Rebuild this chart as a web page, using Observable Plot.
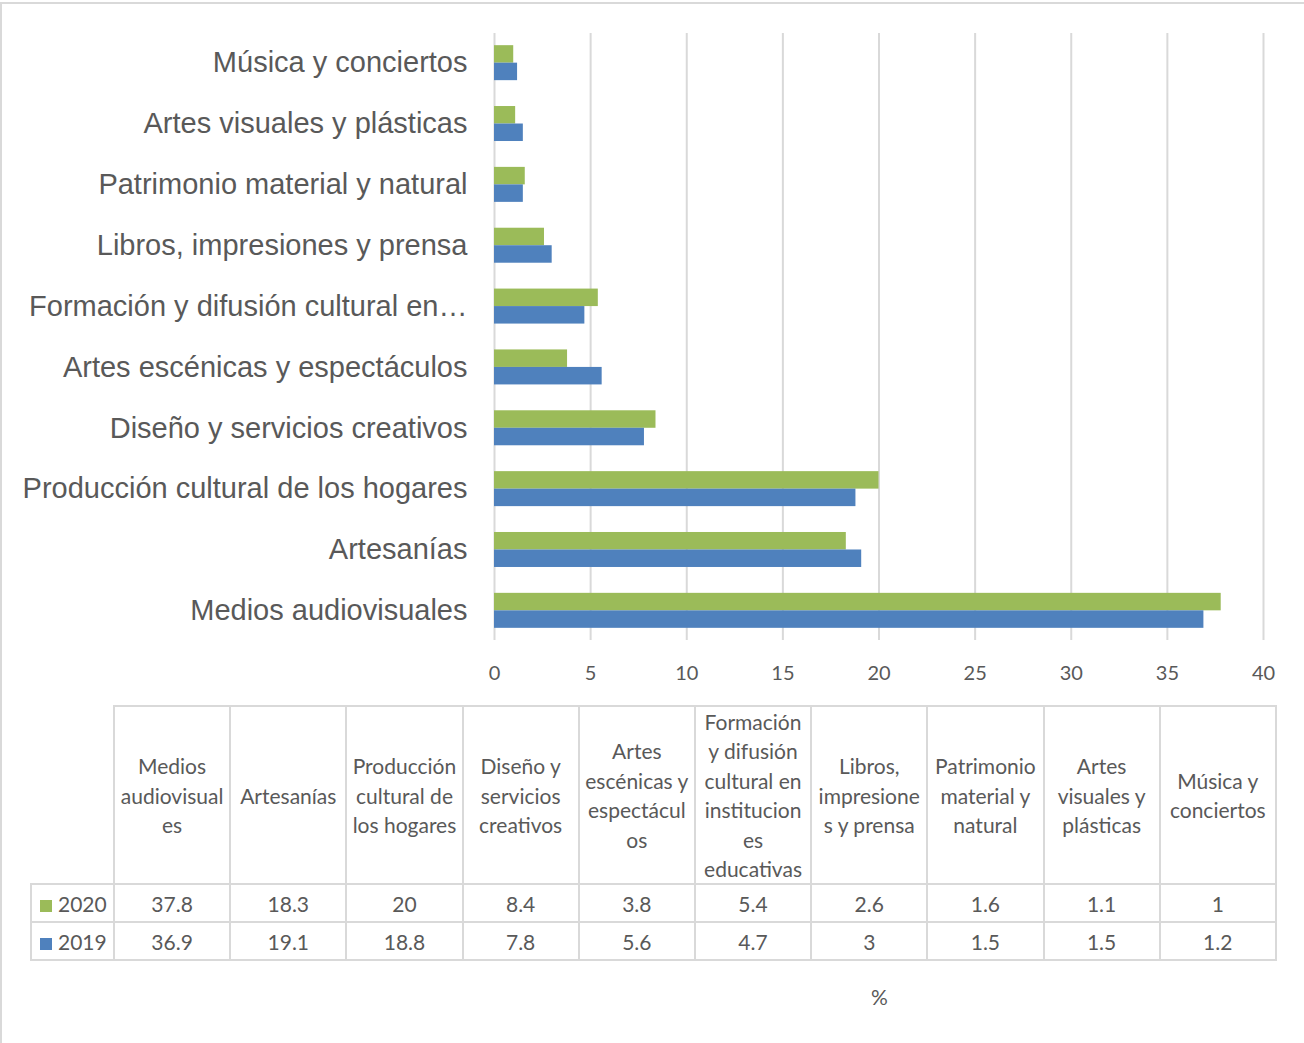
<!DOCTYPE html>
<html>
<head>
<meta charset="utf-8">
<script src="https://cdn.jsdelivr.net/npm/d3@7"></script>
<script src="https://cdn.jsdelivr.net/npm/@observablehq/plot@0.6"></script>
<style>
  html, body { margin: 0; padding: 0; background: #fff; }
  #wrap { position: relative; width: 1304px; height: 1043px; box-sizing: border-box;
          border-top: 2px solid #d9d9d9; border-left: 2px solid #d9d9d9; margin-top: 2px; overflow: hidden; }
  #chart { position: absolute; left: -2px; top: -4px; }
  #chart svg text { font-family: "Liberation Sans", Arial, sans-serif !important; }
  #chart svg g[aria-label="x-axis tick label"] text { font-family: Lato, "Open Sans", sans-serif !important; }
  #tbl { position: absolute; left: 28px; top: 701px; border-collapse: collapse; table-layout: fixed;
         font-family: Lato, "Open Sans", sans-serif; font-size: 21px; color: #595959; }
  #tbl td { border: 2px solid #d9d9d9; text-align: center; padding: 0; white-space: nowrap; overflow: visible; }
  #tbl td.empty { border: none; border-bottom: 2px solid #d9d9d9; }
  #tbl tr.head td { height: 172px; line-height: 29.4px; vertical-align: middle; }
  #tbl tr.row td { height: 36px; }
  #tbl td.leg { text-align: left; padding-left: 8px; }
  .sw { display: inline-block; width: 12px; height: 12px; margin-right: 6px; vertical-align: 0px; }
  #unit { position: absolute; left: 869px; top: 980px; font-family: Lato, "Open Sans", sans-serif; font-size: 21px; color: #595959; }
</style>
</head>
<body>
<div id="wrap">
  <div id="chart"></div>
  <table id="tbl"></table>
  <div id="unit">%</div>
</div>
<script>
const categories = [
  "Medios audiovisuales",
  "Artesanías",
  "Producción cultural de los hogares",
  "Diseño y servicios creativos",
  "Artes escénicas y espectáculos",
  "Formación y difusión cultural en instituciones educativas",
  "Libros, impresiones y prensa",
  "Patrimonio material y natural",
  "Artes visuales y plásticas",
  "Música y conciertos"
];
const axisLabels = [
  "Medios audiovisuales",
  "Artesanías",
  "Producción cultural de los hogares",
  "Diseño y servicios creativos",
  "Artes escénicas y espectáculos",
  "Formación y difusión cultural en…",
  "Libros, impresiones y prensa",
  "Patrimonio material y natural",
  "Artes visuales y plásticas",
  "Música y conciertos"
];
const tableHeaders = [
  ["Medios", "audiovisual", "es"],
  ["Artesanías"],
  ["Producción", "cultural de", "los hogares"],
  ["Diseño y", "servicios", "creativos"],
  ["Artes", "escénicas y", "espectácul", "os"],
  ["Formación", "y difusión", "cultural en", "institucion", "es", "educativas"],
  ["Libros,", "impresione", "s y prensa"],
  ["Patrimonio", "material y", "natural"],
  ["Artes", "visuales y", "plásticas"],
  ["Música y", "conciertos"]
];
const values2020 = [37.8, 18.3, 20, 8.4, 3.8, 5.4, 2.6, 1.6, 1.1, 1];
const values2019 = [36.9, 19.1, 18.8, 7.8, 5.6, 4.7, 3, 1.5, 1.5, 1.2];
const xTicks = [0, 5, 10, 15, 20, 25, 30, 35, 40];
const series = [
  {year: "2020", values: values2020, color: "#9BBB59"},
  {year: "2019", values: values2019, color: "#4F81BD"}
];

const rows2020 = categories.map((c, i) => ({cat: c, value: values2020[i]}));
const rows2019 = categories.map((c, i) => ({cat: c, value: values2019[i]}));
const labelOf = new Map(categories.map((c, i) => [c, axisLabels[i]]));

const pIn = 0.425, pOut = 0.2;
const step = 607 / (10 - pIn + 2 * pOut);
const half = step * (1 - pIn) / 2;

const chart = Plot.plot({
  width: 1304,
  height: 690,
  marginTop: 33,
  marginBottom: 50,
  marginLeft: 494,
  marginRight: 41,
  x: {domain: [0, 40], ticks: xTicks, label: null},
  y: {domain: categories.slice().reverse(), paddingInner: pIn, paddingOuter: pOut, round: false, label: null},
  marks: [
    Plot.ruleX(xTicks, {stroke: "#d9d9d9", strokeWidth: 2}),
    Plot.barX(rows2020, {y: "cat", x: "value", fill: series[0].color, insetBottom: half, insetTop: 0}),
    Plot.barX(rows2019, {y: "cat", x: "value", fill: series[1].color, insetTop: half, insetBottom: 0}),
    Plot.axisX({ticks: xTicks, tickSize: 0, tickPadding: 25, fontSize: 20, fill: "#595959", label: null}),
    Plot.axisY({tickSize: 0, tickPadding: 27, fontSize: 29, fill: "#595959",
                tickFormat: d => labelOf.get(d), label: null})
  ]
});
document.getElementById("chart").appendChild(chart);

// data table
const tbl = document.getElementById("tbl");
const colW = 116.2;
let html = `<colgroup><col style="width:83px">${categories.map(() => `<col style="width:${colW}px">`).join("")}</colgroup>`;
html += `<tr class="head"><td class="empty"></td>${tableHeaders.map(h => `<td>${h.join("<br>")}</td>`).join("")}</tr>`;
for (const s of series) {
  html += `<tr class="row"><td class="leg"><span class="sw" style="background:${s.color}"></span>${s.year}</td>${s.values.map(v => `<td>${v}</td>`).join("")}</tr>`;
}
tbl.innerHTML = html;
</script>
</body>
</html>
